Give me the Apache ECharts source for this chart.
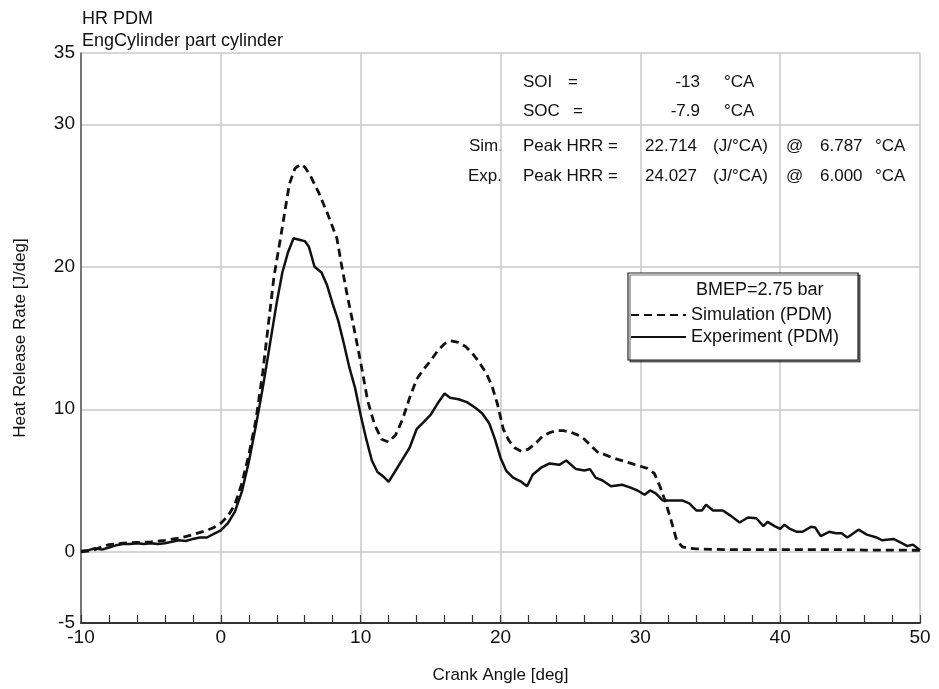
<!DOCTYPE html>
<html>
<head>
<meta charset="utf-8">
<title>HR PDM</title>
<script src="https://cdn.jsdelivr.net/npm/echarts@6/dist/echarts.min.js"></script>
<style>
  html, body { margin: 0; padding: 0; background: #fff; }
  #chart { width: 939px; height: 689px; }
</style>
</head>
<body>
<div id="chart"></div>
<script>
// Crank angle [deg] and heat release rate [J/deg], experiment (PDM)
const angleExp = [-10, -9.5, -9, -8.5, -8, -7.5, -7, -6.5, -6, -5.5, -5, -4.5, -4, -3.5, -3, -2.5, -2, -1.5, -1, -0.5,
  0, 0.5, 1, 1.5, 2, 2.5, 3, 3.5, 4, 4.4, 4.8, 5.2, 5.6, 6.0, 6.3, 6.7, 7.2, 7.6, 8.0, 8.4,
  8.8, 9.2, 9.6, 10.0, 10.4, 10.8, 11.2, 11.6, 12.0, 12.5, 13.0, 13.5, 14.0, 14.5, 15.0, 15.5, 16.0, 16.4, 17.0, 17.6,
  18.2, 18.7, 19.2, 19.6, 20.0, 20.4, 20.9, 21.5, 21.9, 22.3, 22.9, 23.5, 24.2, 24.7, 25.4, 26.0, 26.4, 26.8, 27.3, 27.9,
  28.7, 29.3, 29.8, 30.3, 30.7, 31.1, 31.6, 32.3, 33.0, 33.5, 34.0, 34.4, 34.7, 35.2, 35.9, 36.5, 37.1, 37.7, 38.3, 38.8,
  39.1, 39.6, 40.0, 40.3, 40.7, 41.2, 41.6, 42.2, 42.5, 42.9, 43.5, 44.0, 44.4, 44.8, 45.6, 46.2, 46.9, 47.3, 48.1, 48.7,
  49.1, 49.5, 50.0];
const hrrExp = [0.05, 0.1, 0.25, 0.15, 0.3, 0.45, 0.55, 0.55, 0.6, 0.55, 0.6, 0.55, 0.6, 0.7, 0.8, 0.75, 0.9, 1.0, 1.0, 1.25,
  1.5, 2.0, 2.8, 4.2, 6.3, 8.8, 11.5, 14.5, 17.5, 19.6, 21.0, 22.0, 21.9, 21.8, 21.4, 20.0, 19.6, 18.7, 17.4, 16.2,
  14.6, 12.9, 11.5, 9.6, 7.9, 6.4, 5.6, 5.3, 4.9, 5.7, 6.5, 7.3, 8.6, 9.1, 9.6, 10.4, 11.1, 10.8, 10.7, 10.5,
  10.1, 9.7, 9.0, 7.9, 6.6, 5.7, 5.2, 4.9, 4.6, 5.4, 5.9, 6.2, 6.1, 6.4, 5.8, 5.7, 5.8, 5.2, 5.0, 4.6,
  4.7, 4.5, 4.3, 4.0, 4.3, 4.1, 3.6, 3.6, 3.6, 3.4, 2.9, 2.9, 3.3, 2.9, 2.9, 2.5, 2.05, 2.4, 2.35, 1.8,
  2.1, 1.8, 1.6, 1.9, 1.6, 1.4, 1.4, 1.75, 1.7, 1.1, 1.4, 1.3, 1.3, 1.0, 1.55, 1.2, 1.0, 0.8, 0.9, 0.6,
  0.4, 0.5, 0.1];

// Crank angle [deg] and heat release rate [J/deg], simulation (PDM)
const angleSim = [-10, -9.5, -9, -8.5, -8, -7, -6, -5, -4, -3, -2, -1, -0.5, 0, 0.5, 1, 1.5, 2, 2.5, 3,
  3.5, 3.8, 4.3, 4.9, 5.3, 5.7, 6.0, 6.4, 7.0, 7.6, 8.3, 8.6, 9.0, 9.5, 10.0, 10.5, 11.0, 11.5, 12.0, 12.5,
  13.0, 13.5, 14.0, 14.5, 15.0, 15.5, 16.0, 16.4, 17.0, 17.5, 18.0, 18.4, 19.0, 19.4, 19.8, 20.2, 20.6, 21.0, 21.5, 22.0,
  22.5, 23.0, 23.5, 24.0, 24.5, 25.0, 25.5, 26.0, 26.5, 27.0, 27.5, 28.0, 28.5, 29.0, 29.5, 30.0, 30.5, 31.0, 31.4, 31.8,
  32.2, 32.6, 33.0, 33.5, 34.0, 36.0, 38.0, 40.0, 42.0, 44.0, 46.0, 48.0, 50.0];
const hrrSim = [0.0, 0.05, 0.15, 0.35, 0.5, 0.6, 0.65, 0.7, 0.8, 0.95, 1.2, 1.5, 1.7, 2.0, 2.5, 3.3, 4.8, 6.8, 9.2, 12.6,
  16.8, 19.3, 22.2, 25.8, 26.9, 27.2, 27.0, 26.4, 25.2, 23.8, 22.0, 20.3, 18.2, 15.8, 13.3, 10.6, 8.9, 7.9, 7.7, 8.2,
  9.3, 10.8, 12.1, 12.8, 13.4, 14.1, 14.6, 14.8, 14.7, 14.4, 13.9, 13.4, 12.5, 11.6, 10.3, 8.6, 7.8, 7.3, 7.05, 7.2,
  7.6, 8.1, 8.35, 8.5, 8.5, 8.4, 8.2, 7.9, 7.4, 6.95, 6.8, 6.6, 6.45, 6.3, 6.15, 6.0, 5.85, 5.5, 4.6, 3.5,
  2.2, 0.8, 0.35, 0.25, 0.2, 0.15, 0.15, 0.15, 0.15, 0.15, 0.12, 0.12, 0.1];

// Axis ticks
const xTicks = [-10, 0, 10, 20, 30, 40, 50];
const yTicks = [-5, 0, 10, 20, 30, 35];

const seriesNames = ['Simulation (PDM)', 'Experiment (PDM)'];
const titleLines = ['HR PDM', 'EngCylinder part cylinder'];
const legendHeader = 'BMEP=2.75 bar';

// Summary block: start of injection / combustion, peak heat release
const infoRows = [
  { y: 82,  cells: [['SOI', 523, 'left'], ['=', 573, 'center'], ['-13', 700, 'right'], ['°CA', 724, 'left']] },
  { y: 111, cells: [['SOC', 523, 'left'], ['=', 578, 'center'], ['-7.9', 700, 'right'], ['°CA', 724, 'left']] },
  { y: 146, cells: [['Sim.', 469, 'left'], ['Peak HRR =', 523, 'left'], ['22.714', 645, 'left'], ['(J/°CA)', 713, 'left'], ['@', 786, 'left'], ['6.787', 820, 'left'], ['°CA', 875, 'left']] },
  { y: 176, cells: [['Exp.', 468, 'left'], ['Peak HRR =', 523, 'left'], ['24.027', 645, 'left'], ['(J/°CA)', 713, 'left'], ['@', 786, 'left'], ['6.000', 820, 'left'], ['°CA', 875, 'left']] }
];

const FONT = '"Liberation Sans", Arial, Helvetica, sans-serif';
const INK = '#111';

function zip(xs, ys) { return xs.map((x, i) => [x, ys[i]]); }

const graphics = [];
titleLines.forEach((t, i) => {
  graphics.push({ type: 'text', left: 82, top: 10 + i * 22,
    style: { text: t, font: '18px ' + FONT, fill: INK } });
});
infoRows.forEach(row => {
  row.cells.forEach(c => {
    graphics.push({ type: 'text', x: c[1], y: row.y,
      style: { text: c[0], font: '17px ' + FONT, fill: INK, align: c[2], verticalAlign: 'middle' } });
  });
});
graphics.push({ type: 'text', x: 696, y: 290, z: 200,
  style: { text: legendHeader, font: '18px ' + FONT, fill: INK, verticalAlign: 'middle' } });

const chart = echarts.init(document.getElementById('chart'), null, { renderer: 'canvas' });
chart.setOption({
  backgroundColor: '#fff',
  animation: false,
  textStyle: { fontFamily: FONT, color: INK },
  grid: { left: 81, right: 19, top: 53, bottom: 59, containLabel: false },
  xAxis: {
    type: 'value', min: xTicks[0], max: xTicks[xTicks.length - 1], interval: 10,
    name: 'Crank Angle [deg]', nameLocation: 'middle', nameGap: 44,
    nameTextStyle: { fontSize: 17, color: INK, fontFamily: FONT },
    axisLine: { show: true, onZero: false, lineStyle: { color: '#333', width: 2 } },
    axisTick: { show: true, inside: true, length: 8, lineStyle: { color: '#333', width: 1.2 } },
    minorTick: { show: true, splitNumber: 5, length: 8, lineStyle: { color: '#333', width: 1.2 } },
    axisLabel: { fontSize: 19, color: INK, margin: 5, fontFamily: FONT },
    splitLine: { show: true, lineStyle: { color: '#c8c8c8', width: 1.5 } }
  },
  yAxis: {
    type: 'value', min: yTicks[0], max: yTicks[yTicks.length - 1],
    name: 'Heat Release Rate [J/deg]', nameLocation: 'middle', nameGap: 52, nameRotate: 90,
    nameTextStyle: { fontSize: 17, color: INK, fontFamily: FONT },
    axisLine: { show: true, onZero: false, lineStyle: { color: '#555', width: 1.5 } },
    axisTick: { show: false, customValues: yTicks },
    axisLabel: { fontSize: 19, color: INK, margin: 6, fontFamily: FONT, customValues: yTicks },
    splitLine: { show: true, lineStyle: { color: '#c8c8c8', width: 1.5 } }
  },
  legend: {
    data: seriesNames,
    orient: 'vertical', left: 628, top: 273,
    padding: [33, 19, 14, 2],
    itemWidth: 55, itemHeight: 14, itemGap: 4,
    backgroundColor: '#fff',
    borderColor: '#222', borderWidth: 1.2, borderRadius: 0,
    shadowColor: 'rgba(0,0,0,0.55)', shadowOffsetX: 2, shadowOffsetY: 2, shadowBlur: 0,
    itemStyle: { color: 'transparent', borderColor: 'transparent', borderWidth: 0 },
    textStyle: { fontSize: 18, lineHeight: 18, color: INK, fontFamily: FONT },
    selectedMode: false
  },
  graphic: graphics,
  series: [
    {
      name: seriesNames[0], type: 'line', data: zip(angleSim, hrrSim),
      symbol: 'none', smooth: false, color: INK,
      lineStyle: { color: INK, width: 2.8, type: [8, 5] },
      z: 3
    },
    {
      name: seriesNames[1], type: 'line', data: zip(angleExp, hrrExp),
      symbol: 'none', smooth: false, color: INK,
      lineStyle: { color: INK, width: 2.5, type: 'solid' },
      z: 4
    }
  ]
});
</script>
</body>
</html>
